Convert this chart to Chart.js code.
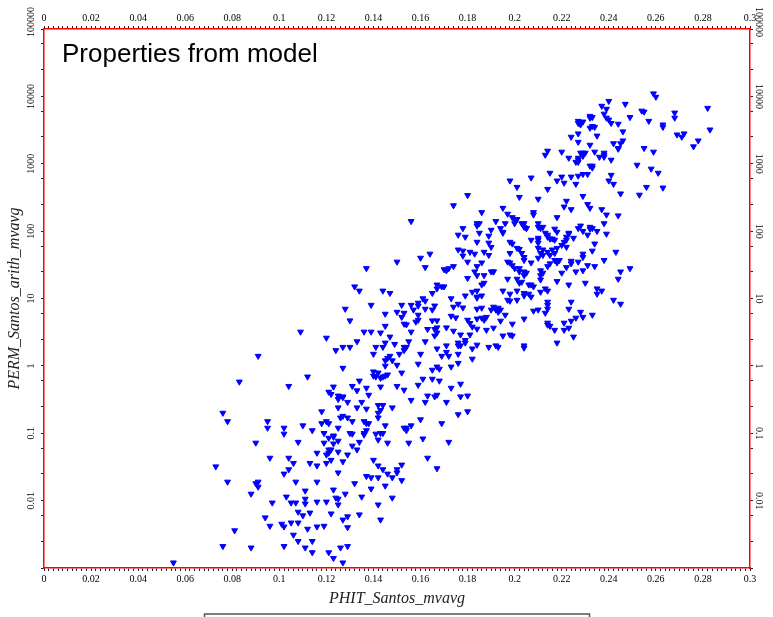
<!DOCTYPE html>
<html>
<head>
<meta charset="utf-8">
<title>Properties from model</title>
<script src="https://cdn.jsdelivr.net/npm/chart.js@4.4.1/dist/chart.umd.min.js"></script>
<style>
  html, body { margin: 0; padding: 0; background: #fff; }
  #wrap { width: 773px; height: 617px; }
</style>
</head>
<body>
<div id="wrap"><canvas id="chart" width="773" height="617"></canvas></div>
<script>
const phit = [
  0.055,0.083,0.104,0.076,0.078,0.095,0.095,0.102,0.102,0.108,
  0.090,0.096,0.104,0.106,0.104,0.102,0.073,0.078,0.090,0.091,
  0.091,0.088,0.107,0.116,0.111,0.123,0.128,0.124,0.125,0.125,
  0.103,0.097,0.105,0.107,0.111,0.111,0.116,0.120,0.108,0.110,
  0.113,0.122,0.094,0.096,0.101,0.102,0.105,0.108,0.112,0.116,
  0.119,0.127,0.129,0.129,0.081,0.106,0.108,0.114,0.076,0.088,
  0.102,0.111,0.114,0.121,0.126,0.129,0.123,0.127,0.109,0.091,
  0.112,0.132,0.135,0.139,0.145,0.152,0.142,0.134,0.148,0.143,

  0.132,0.134,0.144,0.147,0.167,0.167,0.165,0.169,0.170,0.179,
  0.139,0.128,0.152,0.156,0.159,0.161,0.162,0.159,0.166,0.165,
  0.157,0.150,0.152,0.153,0.159,0.159,0.158,0.162,0.173,0.174,
  0.176,0.178,0.130,0.145,0.173,0.175,0.180,0.181,0.165,0.167,
  0.153,0.154,0.145,0.163,0.166,0.167,0.167,0.156,0.171,0.174,
  0.136,0.139,0.143,0.147,0.177,0.179,0.177,0.166,0.120,0.133,
  0.155,0.162,0.171,0.176,0.176,0.179,0.124,0.127,0.130,0.144,
  0.145,0.149,0.141,0.140,0.153,0.153,0.154,0.167,0.160,0.151,
  0.147,0.148,0.146,0.145,0.145,0.150,0.171,0.169,0.172,0.176,
  0.176,0.173,0.127,0.159,0.167,0.168,0.165,0.140,0.141,0.140,
  0.142,0.143,0.145,0.144,0.146,0.152,0.161,0.165,0.168,0.134,
  0.131,0.137,0.143,0.150,0.153,0.159,0.173,0.177,0.123,0.121,
  0.122,0.133,0.138,0.125,0.127,0.125,0.127,0.129,0.135,0.142,
  0.144,0.148,0.156,0.162,0.163,0.167,0.166,0.171,0.177,0.180,
  0.118,0.125,0.133,0.137,0.143,0.142,0.142,0.126,0.127,0.129,
  0.120,0.121,0.131,0.136,0.137,0.138,0.145,0.153,0.154,0.156,
  0.154,0.160,0.169,0.176,0.180,0.110,0.114,0.118,0.125,0.119,
  0.123,0.123,0.121,0.125,0.130,0.131,0.136,0.137,0.136,0.141,
  0.143,0.144,0.142,0.146,0.155,0.161,0.172,0.119,0.123,0.134,
  0.131,0.121,0.121,0.120,0.122,0.116,0.125,0.129,0.133,0.127,
  0.122,0.120,0.113,0.116,0.140,0.142,0.144,0.146,0.150,0.150,
  0.152,0.163,0.167,0.125,0.137,0.139,0.142,0.148,

  0.198,0.201,0.202,0.180,0.174,0.195,0.156,0.186,0.197,0.199,
  0.200,0.200,0.201,0.203,0.204,0.205,0.204,0.192,0.196,0.184,
  0.185,0.184,0.178,0.190,0.194,0.195,0.195,0.176,0.179,0.185,
  0.189,0.205,0.176,0.178,0.181,0.178,0.164,0.160,0.150,0.137,
  0.162,0.170,0.171,0.172,0.174,0.180,0.180,

  0.259,0.260,0.282,0.240,0.237,0.247,0.239,0.254,0.255,0.268,
  0.268,0.238,0.239,0.240,0.241,0.232,0.233,0.232,0.249,0.257,
  0.263,0.263,0.244,0.227,0.227,0.228,0.229,0.232,0.233,0.234,
  0.246,0.283,0.269,0.271,0.272,0.235,0.224,0.227,0.227,0.246,
  0.245,0.244,0.244,0.242,0.232,0.278,0.276,0.255,0.259,0.214,
  0.213,0.220,0.228,0.229,0.230,0.229,0.234,0.236,0.238,0.238,
  0.238,0.241,0.223,0.227,0.227,0.227,0.226,0.232,0.233,0.233,
  0.252,0.258,0.261,0.215,0.218,0.220,0.224,0.227,0.229,0.231,
  0.241,0.240,0.242,0.221,0.226,0.207,0.256,0.263,0.214,0.245,
  0.253,0.229,0.210,0.222,0.221,0.224,0.231,0.232,0.237,0.239,
  0.244,0.208,0.208,0.218,0.238,0.210,0.210,0.211,0.212,0.217,
  0.218,0.228,0.227,0.229,0.232,0.232,0.233,0.235,0.231,0.239,
  0.223,0.223,0.222,0.225,0.213,0.214,0.214,0.215,0.216,0.217,
  0.222,0.210,0.210,0.207,

  0.184,0.189,0.190,0.198,0.199,0.201,0.202,0.203,0.210,0.210,
  0.211,0.212,0.212,0.214,0.215,0.216,0.218,0.220,0.221,0.222,
  0.217,0.234,0.233,0.243,0.187,0.183,0.189,0.198,0.204,0.204,
  0.210,0.207,0.217,0.218,0.219,0.224,0.224,0.227,0.229,0.229,
  0.238,0.186,0.184,0.197,0.198,0.199,0.200,0.202,0.202,0.204,
  0.204,0.205,0.211,0.212,0.211,0.214,0.215,0.220,0.222,0.226,
  0.229,0.231,0.234,0.183,0.184,0.190,0.191,0.191,0.187,0.245,
  0.249,0.197,0.201,0.203,0.202,0.207,0.208,0.206,0.211,0.213,
  0.218,0.223,0.230,0.244,0.187,0.186,0.184,0.182,0.195,0.198,
  0.201,0.204,0.204,0.206,0.207,0.211,0.214,0.235,0.235,0.237,
  0.186,0.184,0.184,0.197,0.198,0.201,0.214,0.214,0.224,0.242,
  0.245,0.186,0.184,0.191,0.190,0.192,0.193,0.193,0.194,0.208,
  0.210,0.214,0.213,0.223,0.228,0.233,0.196,0.186,0.187,0.188,
  0.184,0.194,0.199,0.204,0.214,0.215,0.214,0.217,0.221,0.223,
  0.221,0.224,0.226,0.229,0.182,0.181,0.184,0.188,0.191,0.195,
  0.198,0.199,0.225,0.184,0.189,0.192,0.193,0.204,0.204,0.218,
  0.182,0.182
];

const perm = [
  0.0012,0.58,0.50,0.20,0.15,0.15,0.12,0.12,0.098,0.074,
  0.072,0.043,0.043,0.036,0.029,0.025,0.032,0.019,0.018,0.016,
  0.019,0.0126,0.019,0.019,0.014,0.0145,0.0126,0.011,0.0106,0.0087,
  0.0114,0.0093,0.0093,0.0093,0.0106,0.009,0.0096,0.0096,0.0068,0.006,
  0.0066,0.0064,0.0056,0.0042,0.0045,0.0041,0.0047,0.0047,0.0038,0.0041,
  0.0042,0.0052,0.0058,0.004,0.0036,0.0031,0.0025,0.0025,0.0021,0.002,
  0.0021,0.002,0.0017,0.0017,0.002,0.0021,0.0014,0.0012,3.2,1.4,
  0.69,0.018,0.0114,0.015,0.0166,0.02,0.0087,0.0062,0.011,0.0052,

  15,13,13,12,16,14,12,15,15,11,
  8.0,7.0,8.0,8.0,7.8,10,9.2,8.6,7.8,6.8,
  6.8,6.3,5.3,6.1,5.7,4.8,4.5,7.0,10,7.5,
  8.3,7.3,4.7,5.9,5.5,5.2,4.8,4.3,4.7,4.7,
  4.2,4.1,3.9,3.5,3.5,3.7,3.1,3.2,3.7,3.3,
  3.2,3.2,3.1,2.7,2.9,2.2,2.0,2.8,2.6,2.3,
  2.3,2.3,2.0,2.2,2.0,2.4,1.7,1.9,1.9,1.9,
  2.2,2.1,1.9,1.5,1.9,1.7,1.9,1.8,1.5,1.5,
  1.4,1.2,1.3,1.2,1.0,1.03,1.6,1.4,1.4,1.5,
  1.1,0.97,0.93,1.07,0.97,0.9,0.87,0.82,0.69,0.71,
  0.79,0.66,0.71,0.69,0.74,0.79,0.64,0.64,0.6,0.6,
  0.5,0.47,0.49,0.5,0.44,0.52,0.47,0.54,0.49,0.41,
  0.38,0.43,0.37,0.36,0.34,0.32,0.35,0.29,0.29,0.26,
  0.26,0.24,0.31,0.29,0.36,0.37,0.35,0.29,0.35,0.36,
  0.21,0.24,0.24,0.23,0.22,0.2,0.17,0.17,0.18,0.17,
  0.15,0.14,0.15,0.15,0.14,0.14,0.13,0.12,0.12,0.13,
  0.11,0.16,0.14,0.19,0.21,0.13,0.11,0.14,0.12,0.1,
  0.088,0.092,0.085,0.077,0.1,0.098,0.1,0.11,0.095,0.098,
  0.1,0.1,0.08,0.072,0.072,0.083,0.074,0.072,0.07,0.074,
  0.065,0.057,0.051,0.048,0.057,0.051,0.053,0.048,0.057,0.038,
  0.04,0.036,0.036,0.033,0.04,0.033,0.029,0.025,0.029,0.026,
  0.034,0.043,0.03,0.026,0.023,0.022,0.022,0.022,

  560,450,320,340,240,220,140,190,180,160,
  150,130,150,130,115,110,130,140,130,130,
  130,120,110,104,110,97,94,88,82,94,
  85,110,53,51,49,43,46,40,35,28,
  29,27,26,28,30,35,20,

  11000,9800,6700,8500,7200,7700,6500,6100,5900,5700,
  4800,5500,4800,4500,4000,5100,4900,4800,4900,4300,
  3800,3500,3900,4300,4000,3800,4200,3400,3600,3500,
  3000,3200,2700,2500,2800,2600,2500,2800,2100,2200,
  2000,1700,1660,2000,1900,2200,1800,1700,1500,1550,
  1350,1500,1450,1450,1450,1300,1500,1260,1350,1450,
  1260,1140,1220,1140,1220,1060,1060,930,930,870,
  960,840,730,730,560,640,640,660,700,700,
  680,560,500,520,500,620,450,440,420,360,
  345,330,300,280,230,210,250,220,210,175,
  170,190,175,160,130,130,115,110,115,108,
  97,120,110,100,115,108,110,100,88,91,
  91,94,82,79,94,88,82,77,77,74,
  74,79,74,74,

  69,67,58,69,65,56,54,47,67,56,
  47,53,44,49,44,53,56,62,69,58,
  47,65,51,49,49,46,44,47,41,37,
  40,34,37,34,37,36,33,35,46,41,
  37,34,30,35,34,31,28,28,25,25,
  22,24,26,24,22,30,33,24,29,25,
  26,31,30,25,22,25,25,25,22,25,
  28,19.5,19.5,17.6,17,16,15,16,19,14,
  18,16,17,19.5,17,16,13,12.5,13,11.7,
  13,12,11,11.7,10.6,12.5,13,14,11.7,13,
  11,10.6,10.2,9.5,9.2,9.5,8.9,8.0,8.9,9.5,
  8.3,7.25,7.0,7.5,6.8,6.8,7.25,6.3,6.8,6.55,
  6.8,7.0,6.1,7.0,6.3,5.7,5.7,5.15,4.8,5.3,
  5.0,4.65,4.2,5.0,4.35,3.9,4.06,3.4,4.35,3.66,
  3.4,4.65,5.15,5.3,3.8,2.9,3.54,3.4,3.66,2.8,
  2.9,2.8,2.7,2.05,1.9,2.0,1.9,2.0,1.85,2.2,
  1.8,1.27
];

// axis ticks
const phitLabels = ["0","0.02","0.04","0.06","0.08","0.1","0.12","0.14","0.16","0.18","0.2","0.22","0.24","0.26","0.28","0.3"];
const permTicks = [0.01, 0.1, 1, 10, 100, 1000, 10000, 100000];
const permLabels = ["0.01","0.1","1","10","100","1000","10000","100000"];
const minorSteps = [2.5, 6];

const serif = '"Liberation Serif", "Times New Roman", serif';
Chart.defaults.font.family = serif;

if (phit.length !== perm.length) console.error("length mismatch", phit.length, perm.length);

function xTicks(scale) {
    const t = [];
    for (let i = 0; i <= 150; i++) t.push({ value: i * 0.002 });
    scale.ticks = t;
}

function yTicks(scale) {
    const t = [];
    for (let d = 0.001; d < 200000; d *= 10) {
        t.push({ value: d });
        if (d < 100000) minorSteps.forEach(m => t.push({ value: d * m }));
    }
    scale.ticks = t;
}

function xLabel(value, index) {
    return index % 10 === 0 ? phitLabels[index / 10] : "";
}

const gridOpts = {
    drawOnChartArea: false,
    drawTicks: true,
    tickLength: 3,
    tickColor: "#222",
    tickWidth: 1
};
const borderOpts = { display: true, color: "#ff0000", width: 1.5 };

// rotated y tick labels on both sides, plus title and the cut-off box at the bottom
const decorations = {
    id: "decorations",
    afterDraw(chart) {
        const ctx = chart.ctx;
        const yl = chart.scales.y;
        const yr = chart.scales.y2;
        const area = chart.chartArea;

        ctx.save();
        ctx.font = "10px " + serif;
        ctx.fillStyle = "#000";
        ctx.textAlign = "center";
        ctx.textBaseline = "middle";
        permTicks.forEach((v, i) => {
            let py = yl.getPixelForValue(v);
            if (i === permTicks.length - 1) py -= 7;
            ctx.save();
            ctx.translate(yl.right - 13, py);
            ctx.rotate(-Math.PI / 2);
            ctx.fillText(permLabels[i], 0, 0);
            ctx.restore();

            ctx.save();
            ctx.translate(yr.left + 9, py);
            ctx.rotate(Math.PI / 2);
            ctx.fillText(permLabels[i], 0, 0);
            ctx.restore();
        });

        ctx.font = '26px "Liberation Sans", Arial, sans-serif';
        ctx.textAlign = "left";
        ctx.textBaseline = "alphabetic";
        ctx.fillText("Properties from model", area.left + 18, area.top + 33);

        const cx = (area.left + area.right) / 2;
        ctx.strokeStyle = "#555";
        ctx.lineWidth = 1.5;
        ctx.strokeRect(cx - 192.5, area.bottom + 46, 385, 20);
        ctx.restore();
    }
};

const ctx = document.getElementById("chart").getContext("2d");
new Chart(ctx, {
    type: "scatter",
    data: {
        datasets: [{
            label: "PERM_Santos_arith_mvavg",
            data: phit.map((x, i) => ({ x: x, y: perm[i] })),
            pointStyle: "triangle",
            rotation: 180,
            pointRadius: 3.4,
            borderWidth: 1,
            backgroundColor: "#0000ff",
            borderColor: "#0000ff",
            xAxisID: "x",
            yAxisID: "y"
        }]
    },
    options: {
        responsive: false,
        animation: false,
        devicePixelRatio: 1,
        layout: { padding: 0 },
        plugins: {
            legend: { display: false },
            tooltip: { enabled: false }
        },
        scales: {
            x: {
                type: "linear",
                position: "bottom",
                min: 0,
                max: 0.3,
                afterBuildTicks: xTicks,
                afterFit: s => { s.height = 49; },
                ticks: { autoSkip: false, maxRotation: 0, padding: 2, color: "#000", font: { size: 10 }, callback: xLabel },
                grid: gridOpts,
                border: borderOpts,
                title: {
                    display: true,
                    text: "PHIT_Santos_mvavg",
                    color: "#222",
                    font: { size: 16, style: "italic", family: serif },
                    padding: { top: 0, bottom: 9 }
                }
            },
            x2: {
                type: "linear",
                position: "top",
                min: 0,
                max: 0.3,
                afterBuildTicks: xTicks,
                afterFit: s => { s.height = 29; },
                ticks: { autoSkip: false, maxRotation: 0, padding: 2, color: "#000", font: { size: 10 }, callback: xLabel },
                grid: gridOpts,
                border: borderOpts
            },
            y: {
                type: "logarithmic",
                position: "left",
                min: 0.001,
                max: 100000,
                afterBuildTicks: yTicks,
                afterFit: s => { s.width = 44; },
                ticks: { display: false },
                grid: gridOpts,
                border: borderOpts,
                title: {
                    display: true,
                    text: "PERM_Santos_arith_mvavg",
                    color: "#222",
                    font: { size: 16, style: "italic", family: serif },
                    padding: { top: 5, bottom: 0 }
                }
            },
            y2: {
                type: "logarithmic",
                position: "right",
                min: 0.001,
                max: 100000,
                afterBuildTicks: yTicks,
                afterFit: s => { s.width = 23; },
                ticks: { display: false },
                grid: gridOpts,
                border: borderOpts
            }
        }
    },
    plugins: [decorations]
});
</script>
</body>
</html>
